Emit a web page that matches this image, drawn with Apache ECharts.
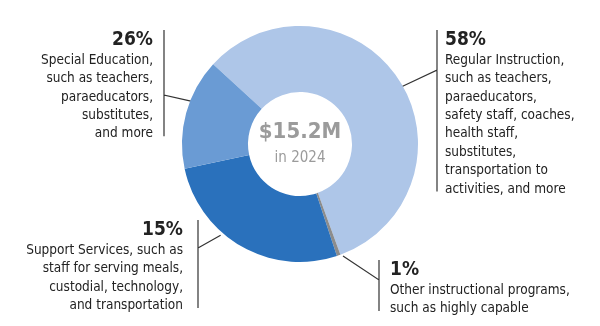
<!DOCTYPE html>
<html>
<head>
<meta charset="utf-8">
<script src="https://cdn.jsdelivr.net/npm/echarts@6/dist/echarts.min.js"></script>
<style>html,body{margin:0;padding:0;background:#fff}#c{width:600px;height:326px}</style>
</head>
<body>
<div id="c"></div>
<script>
// Slices, clockwise from the top-left boundary, sized as drawn in the picture
const categories = ['Regular Instruction', 'Other instructional programs', 'Support Services', 'Special Education'];
const sliceValues = [57.6, 0.5, 26.7, 15.2];
const labelPercents = ['58%', '1%', '15%', '26%'];
const labelBodies = [
  ['Regular Instruction,', 'such as teachers,', 'paraeducators,', 'safety staff, coaches,', 'health staff,', 'substitutes,', 'transportation to', 'activities, and more'],
  ['Other instructional programs,', 'such as highly capable'],
  ['Support Services, such as', 'staff for serving meals,', 'custodial, technology,', 'and transportation'],
  ['Special Education,', 'such as teachers,', 'paraeducators,', 'substitutes,', 'and more']
];
const totalText = '$15.2M';
const yearText = 'in 2024';

// styling / layout (not data)
const colors = ['#aec6e8', '#8c8c8c', '#2a71bc', '#6a9bd4'];
const FONT = "'DejaVu Sans Condensed',sans-serif";
const CENTER = [300, 144];
const labelPos = [
  {x: 445, y: 29, align: 'left', barX: 437, joinY: 70, anchorAngle: 60.6, anchorR: 116},
  {x: 390, y: 259, align: 'left', barX: 379, joinY: 280, anchorAngle: 159, anchorR: 120},
  {x: 183, y: 219, align: 'right', barX: 198, joinY: 248, anchorAngle: 221, anchorR: 121},
  {x: 153, y: 29, align: 'right', barX: 164, joinY: 95, anchorAngle: 291.6, anchorR: 115}
];

const data = categories.map((name, i) => ({
  name: name,
  value: sliceValues[i],
  itemStyle: {color: colors[i]},
  label: {
    align: labelPos[i].align,
    formatter: '{p|' + labelPercents[i] + '}\n' + labelBodies[i].map(t => '{b|' + t + '}').join('\n')
  }
}));

const chart = echarts.init(document.getElementById('c'), null, {renderer: 'canvas'});
chart.setOption({
  animation: false,
  graphic: [
    {type: 'text', x: CENTER[0], y: 132, style: {text: totalText, fill: '#9b9b9b', font: "bold 22px " + FONT, align: 'center', verticalAlign: 'middle'}},
    {type: 'text', x: CENTER[0], y: 158, style: {text: yearText, fill: '#9b9b9b', font: "15px " + FONT, align: 'center', verticalAlign: 'middle'}}
  ],
  series: [{
    type: 'pie',
    center: CENTER,
    radius: [52, 118],
    startAngle: 137.4,
    clockwise: true,
    avoidLabelOverlap: false,
    silent: true,
    itemStyle: {borderWidth: 0},
    label: {
      show: true,
      position: 'outside',
      color: '#222',
      fontFamily: FONT,
      rich: {
        p: {fontSize: 19, fontWeight: 'bold', lineHeight: 22, fontFamily: FONT, color: '#222'},
        b: {fontSize: 13.5, lineHeight: 18.4, fontFamily: FONT, color: '#222'}
      }
    },
    labelLine: {show: true, length: 10, length2: 10, smooth: false, lineStyle: {color: '#333', width: 1.2}},
    labelLayout: function (params) {
      const cfg = labelPos[params.dataIndex];
      const h = params.labelRect.height;
      const a = cfg.anchorAngle * Math.PI / 180;
      const start = [CENTER[0] + cfg.anchorR * Math.sin(a), CENTER[1] - cfg.anchorR * Math.cos(a)];
      return {
        x: cfg.x,
        y: cfg.y,
        align: cfg.align,
        verticalAlign: 'top',
        labelLinePoints: [
          start,
          [cfg.barX, cfg.joinY],
          [cfg.barX, cfg.y + 1],
          [cfg.barX, cfg.y + h - 3]
        ]
      };
    },
    data: data
  }]
});
</script>
</body>
</html>
